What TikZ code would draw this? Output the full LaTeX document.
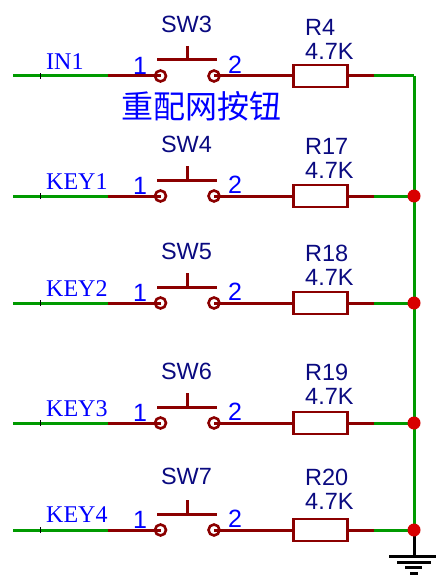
\documentclass[tikz,border=0pt]{standalone}
\usepackage{fontspec}
\setmainfont{Liberation Sans}
\newfontfamily\netfont{Liberation Serif}
\newfontfamily\cjk{Noto Sans CJK SC}
\usetikzlibrary{positioning}
\definecolor{wirered}{HTML}{8B0000}
\definecolor{wiregreen}{HTML}{009A00}
\definecolor{partblue}{HTML}{0A0A80}
\definecolor{dotred}{HTML}{D80000}
\tikzset{
  part/.style={draw=wirered, line width=3pt},
  wire/.style={draw=wirered, line width=3pt},
  net/.style={draw=wiregreen, line width=3pt},
  contact/.style={circle, draw=wirered, line width=2.6pt, fill=white, minimum size=11pt, inner sep=0pt},
  res/.style={rectangle, draw=wirered, line width=2.6pt, fill=white, minimum width=54pt, minimum height=22pt, inner sep=0pt},
  junction/.style={circle, fill=dotred, minimum size=13pt, inner sep=0pt},
  partname/.style={text=partblue, font=\fontsize{23.5}{23.5}\selectfont, inner sep=0pt},
  pinname/.style={text=blue, font=\fontsize{25}{25}\selectfont, inner sep=0pt},
  netname/.style={text=blue, font=\netfont\fontsize{24}{24}\selectfont, anchor=west, inner sep=0pt},
  gnd/.style={draw=black, line width=3pt},
}
\begin{document}
\begin{tikzpicture}[x=1pt, y=-1pt]
	\useasboundingbox (0,0) rectangle (436,575);

	% one row per switch
	\foreach \rowy/\swname/\rname/\keyname/\swdy/\rdy/\keydy in {
		76/SW3/R4/IN1/52/49/14,
		196/SW4/R17/KEY1/52/50/14,
		303/SW5/R18/KEY2/52/50/14,
		423/SW6/R19/KEY3/52/51/14,
		530/SW7/R20/KEY4/54/53/15}{
		\coordinate (in\rowy) at (13,\rowy);
		\coordinate (mid\rowy) at (108,\rowy);
		\coordinate (out\rowy) at (374,\rowy);
		\coordinate (rail\rowy) at (414,\rowy);
		\coordinate (tick\rowy) at (40,\rowy);
		\coordinate (barl\rowy) at (157,\rowy-16);
		\coordinate (barr\rowy) at (217,\rowy-16);
		\coordinate (stem\rowy) at (187,\rowy-30);
		\coordinate (stemb\rowy) at (187,\rowy-16);

		\node[contact] (a\rowy) at (160.5,\rowy) {};
		\node[contact] (b\rowy) at (214,\rowy) {};
		\node[res] (r\rowy) at (320.5,\rowy) {};

		% wires
		\path[net] (in\rowy) -- (mid\rowy);
		\path[net] (out\rowy) -- (rail\rowy);
		\path[wire] (mid\rowy) -- (a\rowy.center);
		\path[wire] (b\rowy.center) -- (r\rowy.west);
		\path[wire] (r\rowy.east) -- (out\rowy);
		\draw[black, line width=.7pt] ([yshift=-3pt]tick\rowy) -- ([yshift=3pt]tick\rowy);

		% push button
		\path[part] (barl\rowy) -- (barr\rowy);
		\path[part] (stem\rowy) -- (stemb\rowy);

		\node[partname] (sw\rowy) at (186.5,\rowy-\swdy) {\swname};
		\node[partname, anchor=west] (rn\rowy) at (305,\rowy-\rdy) {\rname};
		\node[partname, anchor=west] (rv\rowy) at (305,\rowy-\rdy+24) {4.7K};
		\node[pinname] (one\rowy) at (140,\rowy-10) {1};
		\node[pinname] (two\rowy) at (235,\rowy-11) {2};
		\node[netname] (key\rowy) at (46,\rowy-\keydy) {\keyname};
	}

	\node[text=blue, font=\cjk\fontsize{32}{32}\selectfont, inner sep=0pt] (note) at (201,106) {重配网按钮};

	% common rail
	\path[net] (rail76) -- (rail196) -- (rail303) -- (rail423) -- (rail530);
	\node[junction] (j196) at (rail196) {};
	\node[junction] (j303) at (rail303) {};
	\node[junction] (j423) at (rail423) {};

	% ground
	\coordinate (g0) at (414,556);
	\path[gnd] (rail530) -- (g0);
	\node[junction] (j530) at (rail530) {};
	\path[gnd] (389,556) -- (436,556);
	\path[gnd] (397,562) -- (431,562);
	\path[gnd] (405,567) -- (422,567);
	\path[gnd] (410,573) -- (418,573);
\end{tikzpicture}
\end{document}
